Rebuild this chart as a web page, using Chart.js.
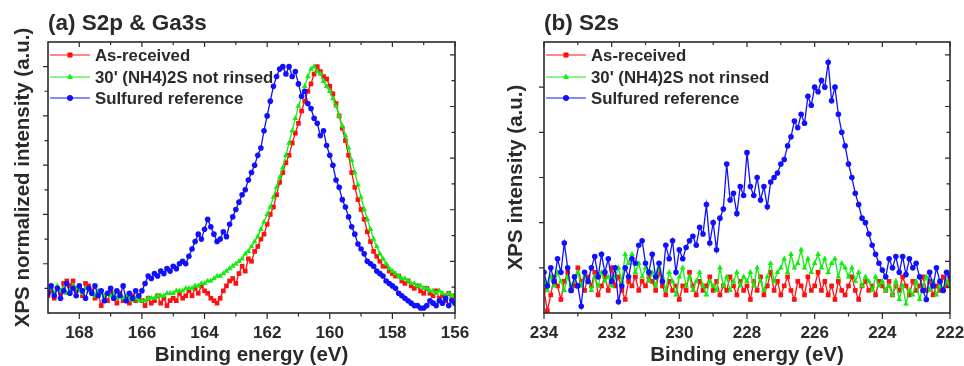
<!DOCTYPE html>
<html><head><meta charset="utf-8">
<script src="https://cdn.jsdelivr.net/npm/chart.js@4.4.0/dist/chart.umd.min.js"></script>
<style>
html,body{margin:0;padding:0;background:#fff;width:964px;height:366px;overflow:hidden}
.wrap{position:absolute;top:0;width:482px;height:366px}
#wa{left:0}#wb{left:482px}
canvas{display:block}
</style></head><body>
<div class="wrap" id="wa"><canvas id="ca" width="482" height="366"></canvas></div>
<div class="wrap" id="wb"><canvas id="cb" width="482" height="366"></canvas></div>
<script>
// ---------- Panel (a) S2p & Ga3s ----------
const aEnergy = [
169.0,168.9,168.8,168.7,168.6,168.5,168.4,168.3,168.2,168.1,
168.0,167.9,167.8,167.7,167.6,167.5,167.4,167.3,167.2,167.1,
167.0,166.9,166.8,166.7,166.6,166.5,166.4,166.3,166.2,166.1,
166.0,165.9,165.8,165.7,165.6,165.5,165.4,165.3,165.2,165.1,
165.0,164.9,164.8,164.7,164.6,164.5,164.4,164.3,164.2,164.1,
164.0,163.9,163.8,163.7,163.6,163.5,163.4,163.3,163.2,163.1,
163.0,162.9,162.8,162.7,162.6,162.5,162.4,162.3,162.2,162.1,
162.0,161.9,161.8,161.7,161.6,161.5,161.4,161.3,161.2,161.1,
161.0,160.9,160.8,160.7,160.6,160.5,160.4,160.3,160.2,160.1,
160.0,159.9,159.8,159.7,159.6,159.5,159.4,159.3,159.2,159.1,
159.0,158.9,158.8,158.7,158.6,158.5,158.4,158.3,158.2,158.1,
158.0,157.9,157.8,157.7,157.6,157.5,157.4,157.3,157.2,157.1,
157.0,156.9,156.8,156.7,156.6,156.5,156.4,156.3,156.2,156.1,
156.0];
const aAsReceived = [
0.07,0.09,0.06,0.10,0.08,0.12,0.13,0.11,0.13,0.09,
0.10,0.07,0.12,0.11,0.09,0.06,0.08,0.03,0.07,0.05,
0.09,0.06,0.04,0.08,0.05,0.06,0.04,0.07,0.05,0.06,
0.05,0.03,0.06,0.04,0.05,0.07,0.04,0.06,0.03,0.05,
0.06,0.05,0.08,0.06,0.07,0.09,0.07,0.10,0.08,0.11,
0.09,0.08,0.06,0.05,0.04,0.06,0.09,0.11,0.13,0.14,
0.12,0.16,0.19,0.17,0.22,0.21,0.25,0.27,0.30,0.32,
0.36,0.40,0.43,0.48,0.53,0.57,0.61,0.64,0.69,0.73,
0.77,0.82,0.86,0.90,0.93,0.97,1.00,0.98,0.96,0.95,
0.92,0.89,0.85,0.80,0.75,0.70,0.64,0.57,0.51,0.46,
0.42,0.38,0.33,0.29,0.25,0.23,0.21,0.19,0.19,0.17,
0.16,0.15,0.15,0.13,0.12,0.13,0.11,0.10,0.11,0.09,
0.08,0.10,0.08,0.07,0.09,0.06,0.07,0.05,0.08,0.06,
0.07];
const aNotRinsed = [
0.09,0.10,0.08,0.11,0.09,0.10,0.08,0.09,0.11,0.10,
0.09,0.08,0.10,0.09,0.08,0.07,0.09,0.08,0.07,0.08,
0.07,0.08,0.06,0.07,0.06,0.07,0.06,0.05,0.06,0.05,
0.05,0.05,0.06,0.06,0.06,0.07,0.07,0.07,0.08,0.08,
0.08,0.09,0.09,0.09,0.10,0.10,0.10,0.11,0.11,0.12,
0.12,0.13,0.13,0.14,0.15,0.15,0.16,0.17,0.18,0.19,
0.20,0.21,0.22,0.24,0.25,0.27,0.29,0.31,0.34,0.37,
0.40,0.43,0.47,0.51,0.55,0.59,0.64,0.69,0.74,0.79,
0.84,0.88,0.92,0.96,0.99,1.00,0.98,0.97,0.94,0.92,
0.90,0.87,0.84,0.80,0.76,0.72,0.67,0.62,0.57,0.52,
0.47,0.42,0.38,0.34,0.30,0.27,0.24,0.22,0.20,0.18,
0.17,0.16,0.15,0.14,0.14,0.13,0.12,0.12,0.11,0.11,
0.10,0.10,0.09,0.09,0.08,0.09,0.08,0.07,0.08,0.07,
0.07];
const aSulfured = [
0.08,0.11,0.07,0.10,0.06,0.09,0.12,0.08,0.10,0.07,
0.11,0.09,0.06,0.10,0.08,0.11,0.07,0.09,0.05,0.08,
0.10,0.06,0.09,0.07,0.11,0.05,0.08,0.06,0.09,0.07,
0.09,0.12,0.15,0.14,0.16,0.15,0.17,0.16,0.18,0.17,
0.19,0.18,0.20,0.21,0.20,0.23,0.26,0.29,0.32,0.30,
0.34,0.38,0.35,0.32,0.29,0.30,0.33,0.31,0.36,0.39,
0.42,0.45,0.48,0.50,0.54,0.57,0.60,0.64,0.67,0.74,
0.80,0.86,0.92,0.96,0.99,1.00,0.97,1.00,0.96,0.98,
0.93,0.88,0.90,0.85,0.83,0.79,0.77,0.72,0.74,0.68,
0.64,0.60,0.54,0.51,0.46,0.43,0.39,0.35,0.32,0.28,
0.26,0.24,0.21,0.20,0.19,0.17,0.16,0.15,0.13,0.12,
0.11,0.10,0.08,0.07,0.06,0.05,0.04,0.03,0.03,0.02,
0.02,0.03,0.05,0.04,0.03,0.05,0.04,0.06,0.03,0.05,
0.04];
const aXMajor = [156,158,160,162,164,166,168];
const aXMinor = [157,159,161,163,165,167];
const aYMajor = [0.2,0.4,0.6,0.8,1.0];
const aYMinor = [0.1,0.3,0.5,0.7,0.9];

// ---------- Panel (b) S2s ----------
const bEnergy = [
234.0,233.9,233.8,233.7,233.6,233.5,233.4,233.3,233.2,233.1,
233.0,232.9,232.8,232.7,232.6,232.5,232.4,232.3,232.2,232.1,
232.0,231.9,231.8,231.7,231.6,231.5,231.4,231.3,231.2,231.1,
231.0,230.9,230.8,230.7,230.6,230.5,230.4,230.3,230.2,230.1,
230.0,229.9,229.8,229.7,229.6,229.5,229.4,229.3,229.2,229.1,
229.0,228.9,228.8,228.7,228.6,228.5,228.4,228.3,228.2,228.1,
228.0,227.9,227.8,227.7,227.6,227.5,227.4,227.3,227.2,227.1,
227.0,226.9,226.8,226.7,226.6,226.5,226.4,226.3,226.2,226.1,
226.0,225.9,225.8,225.7,225.6,225.5,225.4,225.3,225.2,225.1,
225.0,224.9,224.8,224.7,224.6,224.5,224.4,224.3,224.2,224.1,
224.0,223.9,223.8,223.7,223.6,223.5,223.4,223.3,223.2,223.1,
223.0,222.9,222.8,222.7,222.6,222.5,222.4,222.3,222.2,222.1,
222.0];
const bAsReceived = [
0.5,0.05,0.4,0.8,0.6,0.3,0.7,0.9,0.5,0.6,
1.0,0.7,0.5,0.8,0.6,0.9,0.4,0.6,0.8,0.5,
1.0,0.6,0.8,0.5,0.3,0.7,0.6,0.8,0.5,0.7,
0.6,0.8,0.7,0.5,0.9,0.6,0.4,0.7,0.5,0.6,
0.3,0.6,0.5,0.9,0.6,0.4,0.7,0.5,0.6,0.8,
0.5,0.7,0.4,0.6,0.5,0.8,0.6,0.4,0.7,0.5,
0.6,0.3,0.7,0.5,0.8,0.4,0.6,0.9,0.5,0.7,
0.4,0.6,0.8,0.5,0.3,0.7,0.6,0.4,0.8,0.5,
0.6,0.9,0.5,0.7,0.4,0.6,0.3,0.7,0.5,0.4,
0.6,0.8,0.5,0.3,0.6,0.7,0.5,0.6,0.4,0.7,
0.6,0.5,0.7,0.4,0.6,0.5,0.8,0.6,0.4,0.7,
0.5,0.6,0.8,0.5,0.7,0.4,0.6,0.5,0.8,0.6,
0.7];
const bNotRinsed = [
0.7,0.5,0.8,0.6,0.9,0.7,0.5,0.8,0.6,0.7,
0.9,0.6,0.8,0.7,0.5,0.8,0.6,0.9,0.7,0.8,
0.6,0.8,1.0,0.7,1.3,1.1,1.3,0.9,1.1,0.8,
1.0,0.7,0.9,0.6,1.0,0.8,0.5,0.9,0.7,0.4,
0.8,1.0,0.6,0.8,0.5,0.7,0.9,0.6,0.4,0.7,
0.6,0.5,1.0,0.6,0.8,0.5,0.7,0.9,0.6,0.8,
0.7,0.9,0.6,1.0,0.7,0.5,0.8,1.1,0.7,0.9,
1.0,1.2,0.9,1.3,1.0,1.1,1.4,1.0,1.2,0.9,
1.1,1.3,1.0,1.2,0.9,1.1,1.2,0.8,1.1,1.0,
0.8,1.0,0.7,0.9,0.6,0.8,0.7,0.5,0.8,0.6,
0.7,0.5,0.6,0.4,0.7,0.3,0.6,0.2,0.5,0.4,
0.7,0.3,0.6,0.8,0.5,0.7,0.4,0.6,0.5,0.7,
0.6];
const bSulfured = [
0.9,0.6,1.0,0.7,1.2,0.9,1.55,1.0,0.5,0.8,
0.6,0.15,0.9,0.7,1.0,1.25,0.8,1.3,0.9,1.2,
0.7,1.0,0.25,0.6,1.0,0.8,1.2,1.1,1.5,1.6,
1.1,0.9,1.3,0.8,1.1,0.7,1.5,1.2,1.6,0.9,
1.4,1.2,1.45,1.6,1.7,1.5,1.9,1.75,2.4,1.55,
2.0,1.4,2.1,2.3,3.3,2.5,2.65,2.2,2.8,2.6,
3.55,2.8,2.6,3.0,2.5,2.8,2.35,2.9,3.0,3.1,
3.3,3.4,3.7,3.9,4.25,4.1,4.4,4.2,4.8,4.6,
5.0,4.9,5.15,5.0,5.55,4.7,5.0,4.4,4.0,3.7,
3.3,3.0,2.65,2.4,2.1,2.0,1.75,1.5,1.3,1.1,
0.95,0.8,1.2,1.0,1.25,0.9,1.25,0.85,1.2,1.0,
1.1,0.8,0.5,0.3,0.9,0.6,1.0,0.7,0.5,0.9,
0.8];
const bXMajor = [222,224,226,228,230,232,234];
const bXMinor = [223,225,227,229,231,233];
const bYMajor = [1,2,3,4,5];
const bYMinor = [];
// right-hand mirror axis ticks (both panels)
const rightTicks = [1,2,3,4,5,6,7,8,9,10];

const seriesLabels = ['As-received', "30' (NH4)2S not rinsed", 'Sulfured reference'];
const seriesColors = ['#ff1010', '#10ee10', '#1010ff'];
const seriesShapes = ['rect', 'triangle', 'circle'];
const seriesRadius = [3.3, 3.3, 2.8];

Chart.defaults.font.family = '"Liberation Sans", Arial, sans-serif';
Chart.defaults.color = '#2a2a2a';

const framePlugin = {
  id: 'frame',
  afterDraw(chart, args, o) {
    const {ctx, chartArea: a, scales} = chart;
    ctx.save();
    ctx.strokeStyle = '#2a2a2a';
    ctx.lineWidth = 1.2;
    ctx.beginPath();
    o.xMajor.forEach(v => { const p = scales.x.getPixelForValue(v);
      ctx.moveTo(p, a.bottom); ctx.lineTo(p, a.bottom + 6);
      ctx.moveTo(p, a.top); ctx.lineTo(p, a.top + 5); });
    o.xMinor.forEach(v => { const p = scales.x.getPixelForValue(v);
      ctx.moveTo(p, a.bottom); ctx.lineTo(p, a.bottom + 3.5);
      ctx.moveTo(p, a.top); ctx.lineTo(p, a.top + 3); });
    o.yMajor.forEach(v => { const p = scales.y.getPixelForValue(v);
      ctx.moveTo(a.left, p); ctx.lineTo(a.left - 5, p); });
    o.yMinor.forEach(v => { const p = scales.y.getPixelForValue(v);
      ctx.moveTo(a.left, p); ctx.lineTo(a.left - 3.5, p); });
    o.rTicks.forEach((v, i) => { const p = scales.y2.getPixelForValue(v);
      ctx.moveTo(a.right, p); ctx.lineTo(a.right - (i % 2 ? 5 : 3.5), p); });
    ctx.stroke();
    ctx.lineWidth = 1.6;
    ctx.strokeRect(a.left, a.top, a.right - a.left, a.bottom - a.top);
    // legend
    ctx.font = 'bold 16.8px "Liberation Sans", Arial, sans-serif';
    ctx.textBaseline = 'middle';
    ctx.textAlign = 'left';
    const rows = [13, 35, 56];
    seriesLabels.forEach((lab, i) => {
      const y = a.top + rows[i];
      ctx.strokeStyle = seriesColors[i]; ctx.lineWidth = 1.2;
      ctx.beginPath(); ctx.moveTo(a.left + 2, y); ctx.lineTo(a.left + 42, y); ctx.stroke();
      ctx.fillStyle = seriesColors[i];
      Chart.helpers.drawPoint(ctx, {pointStyle: seriesShapes[i], radius: seriesRadius[i], rotation: 0, borderWidth: 0}, a.left + 22, y);
      ctx.fill();
      ctx.fillStyle = '#2a2a2a';
      ctx.fillText(lab, a.left + 47, y + 1);
    });
    ctx.restore();
  }
};

function makeChart(id, energy, series, xr, yMax, title, yTitle, yW, yTitlePad, padR, ticks) {
  const datasets = series.map((vals, i) => ({
    label: seriesLabels[i],
    data: energy.map((e, k) => ({x: e, y: vals[k]})),
    borderColor: seriesColors[i],
    backgroundColor: seriesColors[i],
    borderWidth: 1.3,
    pointStyle: seriesShapes[i],
    pointRadius: seriesRadius[i],
    pointBorderWidth: 0,
    pointBackgroundColor: seriesColors[i],
    tension: 0,
    order: 2 - i
  }));
  return new Chart(document.getElementById(id), {
    type: 'line',
    data: {datasets},
    plugins: [framePlugin],
    options: {
      responsive: false, animation: false, devicePixelRatio: 1,
      layout: {padding: {left: 0, right: padR, top: 0, bottom: 0}},
      plugins: {
        legend: {display: false}, tooltip: {enabled: false},
        title: {display: true, text: title, align: 'start', fullSize: false,
          font: {size: 22.5, weight: 'bold'}, color: '#2a2a2a', padding: {top: 10.5, bottom: 4.5}},
        frame: ticks
      },
      scales: {
        x: {type: 'linear', min: xr[0], max: xr[1], reverse: true,
          afterBuildTicks: s => { s.ticks = ticks.xMajor.map(v => ({value: v})); },
          afterFit: s => { s.height = 53; },
          grid: {display: false}, border: {display: false},
          ticks: {padding: 2, font: {size: 17, weight: 'bold'}, color: '#2a2a2a', maxRotation: 0},
          title: {display: true, text: 'Binding energy (eV)', font: {size: 20.5, weight: 'bold', lineHeight: 1.0}, color: '#2a2a2a', padding: {top: 0, bottom: 0}}
        },
        y: {type: 'linear', min: 0, max: yMax, position: 'left',
          afterFit: s => { s.width = yW; },
          grid: {display: false}, border: {display: false},
          ticks: {display: false},
          title: {display: true, text: yTitle, font: {size: 20.5, weight: 'bold'}, color: '#2a2a2a', padding: {top: yTitlePad, bottom: 0}}
        },
        y2: {type: 'linear', min: 0, max: 10.5, position: 'right',
          afterFit: s => { s.width = 0; },
          grid: {display: false}, border: {display: false},
          ticks: {display: false}
        }
      }
    }
  });
}

makeChart('ca', aEnergy, [aAsReceived, aNotRinsed, aSulfured], [156, 169], 1.1,
  '(a) S2p & Ga3s', 'XPS normalized intensity (a.u.)', 48, 10.7, 27,
  {xMajor: aXMajor, xMinor: aXMinor, yMajor: aYMajor, yMinor: aYMinor, rTicks: rightTicks});
makeChart('cb', bEnergy, [bAsReceived, bNotRinsed, bSulfured], [222, 234], 6,
  '(b) S2s', 'XPS intensity (a.u.)', 62, 21.7, 14,
  {xMajor: bXMajor, xMinor: bXMinor, yMajor: bYMajor, yMinor: bYMinor, rTicks: rightTicks});
</script>
</body></html>
